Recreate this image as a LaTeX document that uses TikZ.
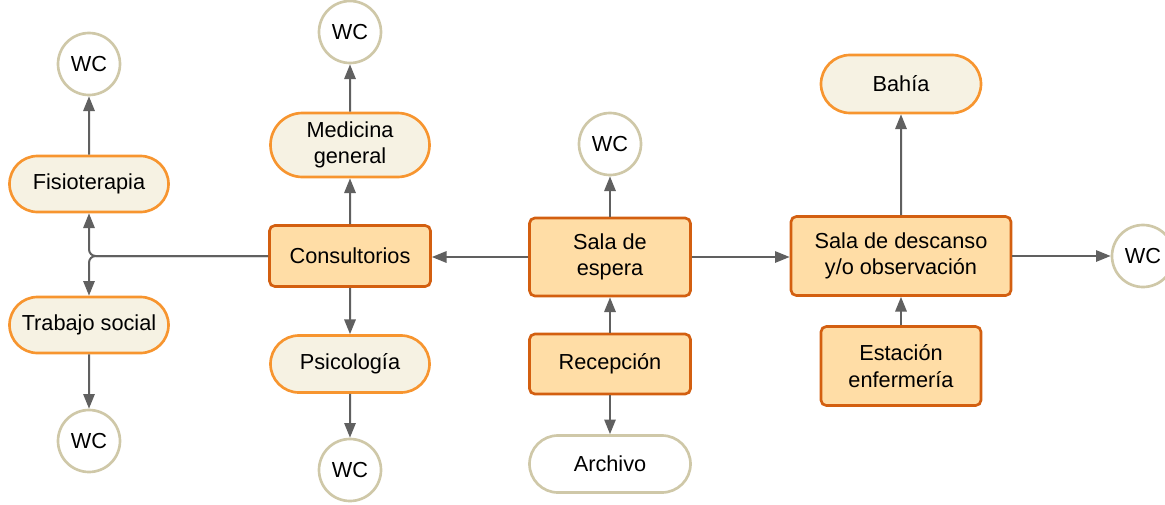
\documentclass[tikz,border=0pt]{standalone}
\usepackage{fontspec}
\setmainfont{Liberation Sans}
\usetikzlibrary{shapes.misc,arrows.meta}
\definecolor{rectfill}{HTML}{FFDDA6}
\definecolor{rectdraw}{HTML}{D35F10}
\definecolor{pillfill}{HTML}{F6F2E3}
\definecolor{pilldraw}{HTML}{F7952F}
\definecolor{wcdraw}{HTML}{CFC8A8}
\definecolor{arr}{HTML}{606060}
\tikzset{
  base/.style={font=\fontsize{16.3}{20}\selectfont, align=center, inner sep=0pt, line width=2pt},
  rectbox/.style={base, rectangle, rounded corners=4pt, draw=rectdraw, fill=rectfill, minimum width=120.75pt},
  pill/.style={base, rounded rectangle, draw=pilldraw, fill=pillfill, minimum width=119.25pt, minimum height=42pt},
  wpill/.style={pill, draw=wcdraw, fill=white},
  wc/.style={base, circle, draw=wcdraw, fill=white, minimum size=46.5pt},
  conn/.style={draw=arr, line width=1.5pt, -{Triangle[length=11pt,width=8.5pt]}},
}
\begin{document}
\begin{tikzpicture}[x=0.75pt,y=-0.75pt]
\useasboundingbox (0,0) rectangle (1165,504);
% left column
\node[wc] (wc1) at (89,64) {WC};
\node[pill] (fisio) at (89,184) {Fisioterapia};
\node[pill] (trab) at (89,325) {Trabajo social};
\node[wc] (wc2) at (89,441) {WC};
% consultorios column
\node[wc] (wc3) at (350,32) {WC};
\node[pill, minimum height=48pt] (med) at (350,145) {Medicina\\general};
\node[rectbox, minimum height=45.75pt] (cons) at (350,256) {Consultorios};
\node[pill, minimum height=42.75pt] (psi) at (350,364) {Psicología};
\node[wc] (wc4) at (350,470) {WC};
% espera column
\node[wc] (wc5) at (610,144) {WC};
\node[rectbox, minimum height=58.5pt] (espera) at (610,257) {Sala de\\espera};
\node[rectbox, minimum height=45pt] (recep) at (610,364) {Recepción};
\node[wpill, minimum width=120.75pt, minimum height=42.75pt] (arch) at (610,464) {Archivo};
% descanso column
\node[pill, minimum width=120pt, minimum height=43.5pt] (bahia) at (901,84) {Bahía};
\node[rectbox, minimum width=165pt, minimum height=59.25pt] (desc) at (901,256) {Sala de descanso\\y/o observación};
\node[rectbox, minimum width=120pt, minimum height=59.25pt] (est) at (901,366) {Estación\\enfermería};
\node[wc] (wc6) at (1143,256) {WC};
% connectors
\draw[conn, rounded corners=5pt] (cons.west) -| (fisio.south);
\draw[conn, rounded corners=5pt] (cons.west) -| (trab.north);
\draw[conn] (fisio) -- (wc1);
\draw[conn] (trab) -- (wc2);
\draw[conn] (cons) -- (med);
\draw[conn] (med) -- (wc3);
\draw[conn] (cons) -- (psi);
\draw[conn] (psi) -- (wc4);
\draw[conn] (espera.west) -- (cons.east |- espera.west);
\draw[conn] (espera) -- (wc5);
\draw[conn] (recep) -- (espera);
\draw[conn] (recep) -- (arch);
\draw[conn] (espera.east) -- (desc.west |- espera.east);
\draw[conn] (desc) -- (bahia);
\draw[conn] (est) -- (desc);
\draw[conn] (desc) -- (wc6);
\end{tikzpicture}
\end{document}
